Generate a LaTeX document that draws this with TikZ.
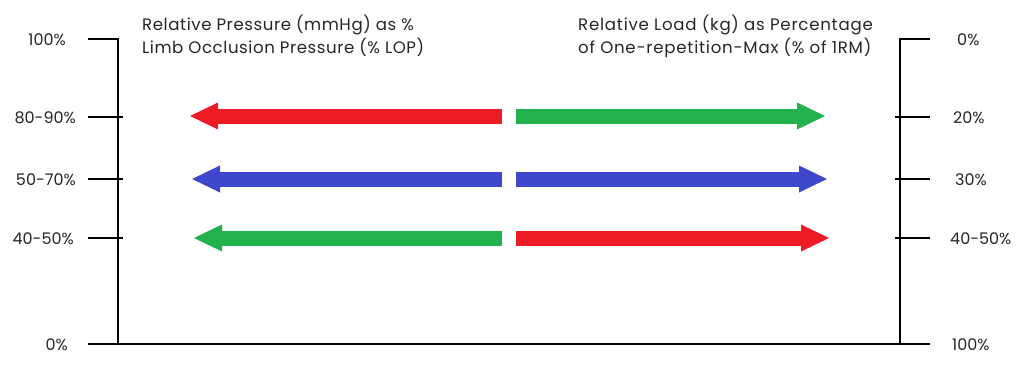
\documentclass[tikz,border=0pt]{standalone}
\usepackage{fontspec}
\setmainfont{Poppins}
\newfontfamily\ttlfont[LetterSpace=3.4]{Poppins}
\newfontfamily\ttlfontr[LetterSpace=4.6]{Poppins}
\usetikzlibrary{arrows.meta}
\definecolor{pRed}{HTML}{ED1C24}
\definecolor{pGreen}{HTML}{22B14C}
\definecolor{pBlue}{HTML}{3F48CC}
\begin{document}
\begin{tikzpicture}[x=1pt,y=-1pt,
  axis/.style={line width=2.2pt,black},
  lbl/.style={inner sep=0pt,font=\fontsize{16}{18}\selectfont,text=black!85},
  ttl/.style={inner sep=0pt,anchor=base west,font=\ttlfont\fontsize{16.6}{18}\selectfont,text=black!85},
  ttlr/.style={ttl,font=\ttlfontr\fontsize{16.6}{18}\selectfont},
  bigarrow/.style={line width=15pt,line cap=butt,-{Triangle[length=28pt,width=27pt,line width=0pt]}}]
\useasboundingbox (0,0) rectangle (1024,367);
% axes
\coordinate (LT) at (118,39);
\coordinate (LB) at (118,344);
\coordinate (RT) at (900,39);
\coordinate (RB) at (900,344);
\draw[axis] (88,39) -- (LT) -- (LB);
\draw[axis] (930,39) -- (RT) -- (RB);
\draw[axis] (88,344) -- (930,344);
\foreach \y in {117,179,238}{
  \draw[axis] (88,\y) -- (123,\y);
  \draw[axis] (895,\y) -- (930,\y);
}
% left labels
\node[lbl,anchor=base east] (l100) at (66,45) {100\%};
\node[lbl,anchor=base east] (l80) at (76,123) {80-90\%};
\node[lbl,anchor=base east] (l50) at (76,185) {50-70\%};
\node[lbl,anchor=base east] (l40) at (74,244) {40-50\%};
\node[lbl,anchor=base east] (l0) at (68,350) {0\%};
% right labels
\node[lbl,anchor=base west] (r0) at (957,45) {0\%};
\node[lbl,anchor=base west] (r20) at (953,123) {20\%};
\node[lbl,anchor=base west] (r30) at (955,185) {30\%};
\node[lbl,anchor=base west] (r40) at (950,244) {40-50\%};
\node[lbl,anchor=base west] (r100) at (952,350) {100\%};
% titles
\node[ttl] (t1a) at (142,30) {Relative Pressure (mmHg) as \%};
\node[ttl] (t1b) at (142,53) {Limb Occlusion Pressure (\% LOP)};
\node[ttlr] (t2a) at (578,30) {Relative Load (kg) as Percentage};
\node[ttlr] (t2b) at (578,53) {of One-repetition-Max (\% of 1RM)};
% arrows
\coordinate (a1s) at (502,116); \coordinate (a1e) at (190,116);
\coordinate (a2s) at (502,179); \coordinate (a2e) at (192,179);
\coordinate (a3s) at (502,238); \coordinate (a3e) at (194,238);
\coordinate (b1s) at (516,116); \coordinate (b1e) at (825,116);
\coordinate (b2s) at (516,179); \coordinate (b2e) at (827,179);
\coordinate (b3s) at (516,238); \coordinate (b3e) at (829,238);
\draw[bigarrow,pRed] (a1s) -- (a1e);
\draw[bigarrow,pBlue] (a2s) -- (a2e);
\draw[bigarrow,pGreen] (a3s) -- (a3e);
\draw[bigarrow,pGreen] (b1s) -- (b1e);
\draw[bigarrow,pBlue] (b2s) -- (b2e);
\draw[bigarrow,pRed] (b3s) -- (b3e);
\end{tikzpicture}
\end{document}
